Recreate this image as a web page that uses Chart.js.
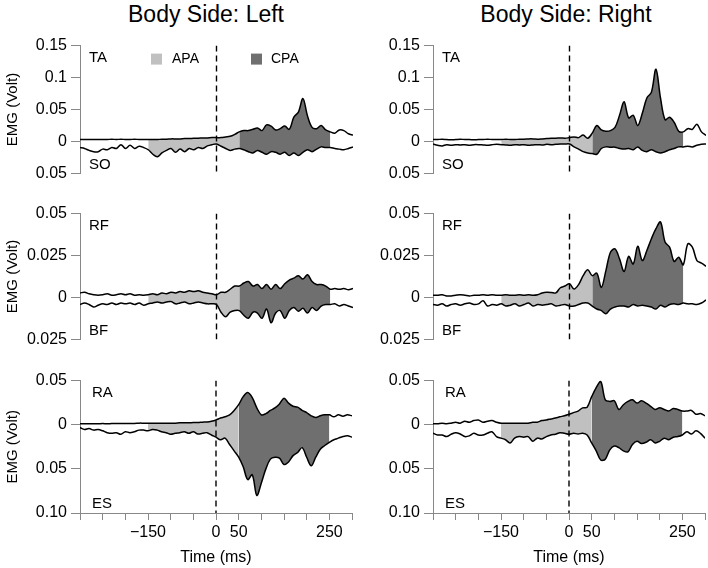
<!DOCTYPE html>
<html>
<head>
<meta charset="utf-8">
<script src="https://cdn.jsdelivr.net/npm/chart.js@4.4.1/dist/chart.umd.min.js"></script>
<style>
  body { margin: 0; background: #fff; width: 708px; height: 568px; overflow: hidden; position: relative;
         font-family: "Liberation Sans", Arial, sans-serif; }
  .panel { position: absolute; }
  .title { position: absolute; top: 1px; width: 300px; text-align: center; font-size: 23px; color: #000; }
</style>
</head>
<body>
<div class="title" style="left:56px">Body Side: Left</div>
<div class="title" style="left:416px">Body Side: Right</div>

<script>
// time base (ms), one sample every 10 ms
const TIME = [-300, -290, -280, -270, -260, -250, -240, -230, -220, -210,
              -200, -190, -180, -170, -160, -150, -140, -130, -120, -110,
              -100, -90, -80, -70, -60, -50, -40, -30, -20, -10,
              0, 10, 20, 30, 40, 50, 60, 70, 80, 90,
              100, 110, 120, 130, 140, 150, 160, 170, 180, 190,
              200, 210, 220, 230, 240, 250, 260, 270, 280, 290, 300];

const APA_RANGE = [-150, 50];
const CPA_RANGE = [50, 250];

const X_TICKS = [-300, -250, -200, -150, -100, -50, 0, 50, 100, 150, 200, 250, 300];
const X_TICK_LABELS = ['', '', '', '\u2212150', '', '', '0', '50', '', '', '', '250', ''];

const Y_TICKS = [
  [0.15, 0.1, 0.05, 0, -0.05],
  [0.05, 0.025, 0, -0.025],
  [0.05, 0, -0.05, -0.10]
];
const Y_TICK_LABELS = [
  ['0.15', '0.1', '0.05', '0', '0.05'],
  ['0.05', '0.025', '0', '0.025'],
  ['0.05', '0', '0.05', '0.10']
];
const MUSCLES = [['TA', 'SO'], ['RF', 'BF'], ['RA', 'ES']];

// EMG envelopes (Volt). Upper muscle drawn above zero, lower muscle mirrored below.
const TA_L = [.003, .003, .003, .003, .003, .003, .003, .0035, .003, .0035,
              .003, .003, .0035, .003, .003, .003, .003, .003, .0035, .0035,
              .004, .004, .004, .0045, .0045, .005, .005, .0055, .0055, .006,
              .006, .006, .007, .008, .011, .015, .017, .017, .019, .021,
              .017, .026, .024, .018, .02, .024, .019, .038, .046, .067,
              .04, .022, .02, .025, .018, .015, .013, .018, .017, .012, .01];
const SO_L = [.0095, .011, .014, .016, .016, .012, .013, .0095, .011, .005,
              .011, .006, .011, .0075, .0095, .013, .02, .024, .018, .014,
              .011, .017, .012, .016, .011, .013, .0095, .011, .007, .005,
              .004, .0075, .011, .014, .012, .011, .013, .016, .018, .014,
              .017, .02, .016, .017, .02, .017, .022, .018, .022, .017,
              .013, .016, .012, .0085, .0095, .0095, .011, .012, .013, .011, .0085];
const TA_R = [.003, .003, .0035, .003, .0025, .003, .0035, .003, .003, .0025,
              .003, .003, .0035, .003, .003, .003, .0035, .003, .003, .0035,
              .0035, .004, .004, .0035, .004, .0045, .005, .005, .0055, .005,
              .006, .007, .006, .01, .005, .013, .025, .018, .016, .017,
              .022, .041, .062, .037, .041, .025, .044, .068, .077, .113,
              .068, .034, .038, .03, .016, .015, .02, .019, .027, .015, .0095];
const SO_R = [.004, .006, .007, .005, .006, .005, .0055, .005, .006, .005,
              .005, .0055, .006, .005, .0045, .005, .0055, .006, .005, .0055,
              .005, .006, .0055, .005, .0055, .0045, .005, .0045, .004, .004,
              .004, .0085, .012, .016, .018, .019, .02, .011, .0085, .009,
              .009, .011, .012, .011, .013, .0085, .014, .016, .013, .016,
              .018, .016, .013, .011, .0085, .0085, .0075, .0085, .006, .0045, .004];
const RF_L = [.0027, .0031, .0022, .0016, .0013, .0016, .0022, .0013, .0016, .0022,
              .0016, .0022, .0013, .0016, .0013, .0016, .0022, .0016, .0027, .0022,
              .0031, .0027, .0035, .0031, .004, .0035, .004, .0031, .0027, .0022,
              .0016, .0031, .0031, .0049, .0068, .0068, .0086, .0095, .0068, .0077,
              .0053, .0077, .0049, .0077, .0053, .0082, .0104, .0115, .013, .011,
              .0135, .0095, .0077, .0077, .0068, .0049, .0053, .0049, .0053, .0046, .0053];
const BF_L = [.0042, .0033, .0042, .0057, .0046, .0038, .0042, .0033, .0042, .0033,
              .0038, .0033, .0042, .0033, .0046, .0038, .0033, .0027, .0033, .0027,
              .0024, .0038, .0033, .0027, .0038, .0033, .0027, .0033, .0038, .0038,
              .0042, .0088, .0115, .0088, .0078, .0078, .0106, .0124, .0088, .0093,
              .0124, .0069, .0151, .0093, .0078, .0124, .0078, .006, .0082, .0064,
              .0093, .006, .0078, .0051, .0042, .0042, .0038, .0051, .0042, .0051, .006];
const RF_R = [.0013, .0013, .0016, .0009, .0009, .0013, .0016, .0013, .0009, .0013,
              .0013, .0016, .0013, .0016, .0013, .0013, .0016, .0013, .0013, .0016,
              .0013, .0016, .0013, .0016, .0027, .0031, .003, .0027, .0058, .0068,
              .0082, .005, .0077, .013, .0165, .013, .0145, .006, .016, .027,
              .029, .023, .0155, .0245, .02, .0305, .022, .028, .035, .041,
              .045, .033, .03, .0215, .024, .0195, .032, .03, .022, .0205, .0186];
const BF_R = [.0042, .0046, .0038, .0051, .0042, .0038, .0046, .0038, .0033, .0042,
              .0038, .002, .0051, .0042, .0046, .0038, .0051, .0046, .0038, .0051,
              .0042, .0033, .0051, .0042, .0046, .0042, .0038, .0051, .0046, .0042,
              .0051, .0051, .0042, .0033, .0033, .0051, .0069, .0078, .0097, .0069,
              .0057, .0051, .0051, .0057, .0042, .0051, .0046, .0051, .0057, .0069,
              .0046, .0057, .0042, .0038, .0042, .0033, .0038, .0038, .0042, .0033, .0015];
const RA_L = [.0011, .0011, .0011, .0011, .0011, .0014, .0011, .0014, .0014, .0014,
              .0014, .0014, .0014, .0018, .0018, .0018, .0018, .0018, .0018, .0018,
              .0018, .0018, .0022, .0022, .0022, .0025, .0025, .0029, .0032, .004,
              .0054, .0076, .009, .0112, .0162, .0227, .0318, .0365, .0307, .0191,
              .0112, .0126, .0162, .0191, .0235, .03, .0245, .021, .0199, .0162,
              .0137, .0101, .0083, .0101, .0112, .0112, .009, .0112, .0097, .0112, .0101];
const ES_L = [.0032, .0054, .0043, .0061, .0054, .0069, .009, .0097, .009, .0108,
              .0079, .009, .0079, .0061, .0061, .0069, .0054, .0061, .0079, .009,
              .0108, .0097, .009, .0079, .0097, .0079, .0105, .0097, .009, .0116,
              .0141, .017, .0152, .0224, .0296, .0368, .0477, .0621, .0567, .0801,
              .066, .05, .039, .0368, .0379, .0451, .0422, .035, .0314, .026,
              .0368, .0466, .0368, .0278, .0235, .0199, .017, .0152, .0134, .0126, .0141];
const RA_R = [.0011, .0011, .0018, .0011, .0018, .0029, .0018, .004, .0029, .0047,
              .0054, .0029, .004, .0047, .0029, .0018, .0018, .0018, .0018, .0018,
              .0018, .0018, .0029, .0029, .0047, .0054, .0065, .0076, .009, .0101,
              .0119, .0137, .0155, .0191, .0199, .0318, .042, .049, .0282, .0264,
              .0271, .0173, .0227, .0264, .0282, .0245, .0271, .0245, .0209, .0173,
              .0191, .0173, .0155, .0184, .0173, .0155, .0155, .0162, .0119, .0126, .0101];
const ES_R = [.0097, .0116, .0116, .0134, .0108, .009, .0105, .0134, .0126, .0097,
              .0116, .0116, .0097, .0079, .0134, .0152, .017, .0206, .0152, .0134,
              .0141, .0134, .0188, .0152, .0162, .0134, .0116, .0108, .009, .0097,
              .0108, .0097, .0105, .0097, .0116, .0206, .0296, .04, .039, .0285,
              .0242, .026, .0296, .0307, .0224, .0188, .0213, .0199, .017, .0206,
              .0188, .0152, .017, .0141, .0134, .0116, .0079, .0105, .0069, .0097, .0152];

const PANELS = [
  { row: 0, col: 0, up: TA_L, lo: SO_L, legend: true },
  { row: 0, col: 1, up: TA_R, lo: SO_R },
  { row: 1, col: 0, up: RF_L, lo: BF_L },
  { row: 1, col: 1, up: RF_R, lo: BF_R },
  { row: 2, col: 0, up: RA_L, lo: ES_L },
  { row: 2, col: 1, up: RA_R, lo: ES_R }
];

const APA_COLOR = '#c0c0c0';
const CPA_COLOR = '#6f6f6f';
const AXIS_COLOR = '#888888';
const FONT = '"Liberation Sans", Arial, sans-serif';

// layout in page pixels
const PLOT_LEFT = [80, 433];
const PLOT_W = 273;
const PLOT_TOP = [40, 208, 375];
const PLOT_BOTTOM = [179, 345, 513];
const Y_AXIS_W = 80;

function points(vals, sign, range) {
  return TIME.map((t, i) => ({ x: t, y: sign * vals[i] }))
    .filter(p => !range || (p.x >= range[0] && p.x <= range[1]));
}

const panelText = {
  id: 'panelText',
  afterDraw(chart, args, opts) {
    const { ctx, chartArea: a } = chart;
    ctx.save();
    ctx.fillStyle = '#000';
    ctx.textBaseline = 'middle';
    ctx.font = '15px ' + FONT;
    ctx.fillText(opts.top, a.left + opts.dx, a.top + opts.dyTop);
    ctx.fillText(opts.bottom, a.left + opts.dx, a.bottom - opts.dyBottom);
    if (opts.legend) {
      ctx.font = '14px ' + FONT;
      ctx.fillStyle = APA_COLOR;
      ctx.fillRect(a.left + 71, a.top + 8, 11, 11);
      ctx.fillStyle = CPA_COLOR;
      ctx.fillRect(a.left + 171, a.top + 8, 11, 11);
      ctx.fillStyle = '#000';
      ctx.fillText('APA', a.left + 92, a.top + 14);
      ctx.fillText('CPA', a.left + 191, a.top + 14);
    }
    ctx.restore();
  }
};

PANELS.forEach(p => {
  const r = p.row, c = p.col;
  const yMin = Y_TICKS[r][Y_TICKS[r].length - 1];
  const yMax = Y_TICKS[r][0];
  const padBottom = r < 2 ? 8 : 0;
  const xAxisH = r < 2 ? 0 : 55;

  const div = document.createElement('div');
  div.className = 'panel';
  div.style.left = (PLOT_LEFT[c] - Y_AXIS_W) + 'px';
  div.style.top = (PLOT_TOP[r] - 8) + 'px';
  div.style.width = (Y_AXIS_W + PLOT_W + 2) + 'px';
  div.style.height = (PLOT_BOTTOM[r] - PLOT_TOP[r] + 8 + padBottom + xAxisH) + 'px';
  const canvas = document.createElement('canvas');
  div.appendChild(canvas);
  document.body.appendChild(div);

  const line = { borderColor: '#000', borderWidth: 1.5, pointRadius: 0, tension: 0.35, fill: false, order: 0 };
  const area = { borderWidth: 0, pointRadius: 0, tension: 0.35, order: 1 };

  new Chart(canvas, {
    type: 'line',
    data: {
      datasets: [
        { ...line, data: points(p.up, 1) },
        { ...line, data: points(p.lo, -1) },
        { ...line, tension: 0, borderWidth: 1.4, borderDash: [6, 4], data: [{ x: 0, y: yMax }, { x: 0, y: yMin }] },
        { ...area, data: points(p.up, 1, APA_RANGE), fill: '+1', backgroundColor: APA_COLOR },
        { ...area, data: points(p.lo, -1, APA_RANGE), fill: false },
        { ...area, data: points(p.up, 1, CPA_RANGE), fill: '+1', backgroundColor: CPA_COLOR },
        { ...area, data: points(p.lo, -1, CPA_RANGE), fill: false }
      ]
    },
    options: {
      responsive: true,
      maintainAspectRatio: false,
      animation: false,
      events: [],
      layout: { padding: { top: 8, right: 2, bottom: padBottom, left: 0 } },
      plugins: {
        legend: { display: false },
        tooltip: { enabled: false },
        panelText: {
          top: MUSCLES[r][0], bottom: MUSCLES[r][1], legend: !!p.legend,
          dx: r === 2 ? 12 : 9, dyTop: 12, dyBottom: 9
        }
      },
      scales: {
        x: {
          type: 'linear', min: -300, max: 300, display: r === 2,
          afterBuildTicks: s => { s.ticks = X_TICKS.map(v => ({ value: v })); },
          afterFit: s => { s.height = xAxisH; },
          ticks: {
            autoSkip: false, maxRotation: 0, color: '#000', padding: 3,
            font: { family: FONT, size: 16 },
            callback: v => X_TICK_LABELS[X_TICKS.indexOf(v)]
          },
          grid: { drawOnChartArea: false, tickLength: 7, color: AXIS_COLOR },
          border: { color: AXIS_COLOR },
          title: { display: true, text: 'Time (ms)', color: '#000', font: { family: FONT, size: 16 }, padding: { top: 4, bottom: 1 } }
        },
        y: {
          min: yMin, max: yMax,
          afterBuildTicks: s => { s.ticks = Y_TICKS[r].map(v => ({ value: v })); },
          afterFit: s => { s.width = Y_AXIS_W; },
          ticks: {
            color: '#000', padding: 4, font: { family: FONT, size: 16 },
            callback: (v, i) => Y_TICK_LABELS[r][i]
          },
          grid: { drawOnChartArea: false, tickLength: 9, color: AXIS_COLOR },
          border: { color: AXIS_COLOR },
          title: { display: c === 0, text: 'EMG (Volt)', color: '#000', font: { family: FONT, size: 15 }, padding: { top: 4, bottom: 0 } }
        }
      }
    },
    plugins: [panelText]
  });
});
</script>
</body>
</html>
